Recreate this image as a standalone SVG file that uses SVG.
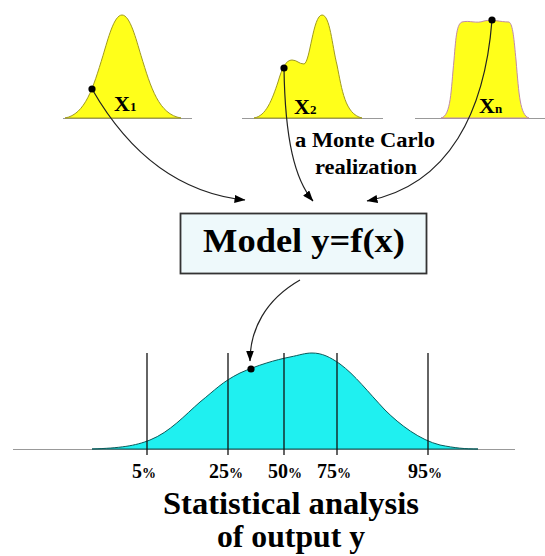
<svg xmlns="http://www.w3.org/2000/svg" width="545" height="556" viewBox="0 0 545 556">
<style>
.t{font-family:'Liberation Serif','Times New Roman','DejaVu Serif',serif;font-weight:bold;fill:#000}
.base{stroke:#999;stroke-width:1.2;fill:none}
.yel{fill:#ffff1a;stroke:#a09a20;stroke-width:1}
.conn{fill:none;stroke:#222;stroke-width:1.2}
.vl{stroke:#111;stroke-width:1.3}
</style>
<defs>
<marker id="ah" viewBox="0 0 11 8" refX="10.5" refY="4" markerWidth="11" markerHeight="8" markerUnits="userSpaceOnUse" orient="auto">
<path d="M0,0 L11,4 L0,8 Z" fill="#000"/>
</marker>
</defs>
<rect width="545" height="556" fill="#fff"/>

<g id="x1">
<line class="base" x1="63" y1="118.5" x2="192" y2="118.5"/>
<path class="yel" d="M65,118 C85,114.4 93,88.4 103,55.5 C108,39 114,15 122,15 C130,15 136,39 141,55.5 C151,88.4 159,114.4 181,118 Z"/>
<text class="t" font-family="Liberation Serif, serif" x="114" y="111" font-size="22">X<tspan font-size="13">1</tspan></text>
</g>

<g id="x2">
<line class="base" x1="242" y1="118.5" x2="383" y2="118.5"/>
<path class="yel" d="M254,118 C266,116 272,100 278,82 C282,68 286,60 292,60 C297,60 299,64 304,64 C310,63 313,15 322,15 C330,15 332,45 337,65 C342,90 345,114 362,118 Z"/>
<text class="t" font-family="Liberation Serif, serif" x="294" y="114" font-size="22">X<tspan font-size="13">2</tspan></text>
</g>

<g id="xn">
<line class="base" x1="415" y1="118.5" x2="545" y2="118.5"/>
<path d="M441,118 C451,116 451,90 454,60 C456,35 457,24 462,22 C470,20 476,24 484,21 C493,19 500,22 509,22 C513,24 514,40 516,60 C519,95 520,115 529,118 Z" fill="#ffff1a" stroke="#c08aa8" stroke-width="1"/>
<text class="t" font-family="Liberation Serif, serif" x="479" y="113" font-size="22">X<tspan font-size="13">n</tspan></text>
</g>

<g id="model">
<rect x="180.5" y="213.5" width="246" height="60" fill="#eef9fb" stroke="#333" stroke-width="1.8"/>
<text class="t" font-family="Liberation Serif, serif" x="304" y="252" font-size="34" text-anchor="middle" textLength="202" lengthAdjust="spacingAndGlyphs">Model y=f(x)</text>
</g>

<g id="label-mc">
<text class="t" font-family="Liberation Serif, serif" x="365" y="147" font-size="20" text-anchor="middle" textLength="140" lengthAdjust="spacingAndGlyphs">a Monte Carlo</text>
<text class="t" font-family="Liberation Serif, serif" x="366" y="174" font-size="20" text-anchor="middle" textLength="102" lengthAdjust="spacingAndGlyphs">realization</text>
</g>

<g id="output">
<line class="base" x1="13" y1="449.5" x2="515" y2="449.5"/>
<path d="M92,449 C120,448 135,446 150,440 C170,432 185,415 200,402 C215,390 222,382 240,373 C258,365 275,360 290,357 C300,355 305,353 312,353 C322,353 330,357 340,364 C355,375 368,392 385,410 C400,425 420,440 440,445 C455,448 465,449 478,449 Z" fill="#1ff0f0" stroke="#0a5a5a" stroke-width="1"/>
<line class="vl" x1="147" y1="353" x2="147" y2="455"/>
<line class="vl" x1="228" y1="353" x2="228" y2="455"/>
<line class="vl" x1="284" y1="353" x2="284" y2="455"/>
<line class="vl" x1="337" y1="353" x2="337" y2="455"/>
<line class="vl" x1="428" y1="353" x2="428" y2="455"/>
<g font-family="Liberation Serif, serif">
<text class="t" x="132" y="478" font-size="20">5<tspan font-size="14">%</tspan></text>
<text class="t" x="209" y="478" font-size="20">25<tspan font-size="14">%</tspan></text>
<text class="t" x="268" y="478" font-size="20">50<tspan font-size="14">%</tspan></text>
<text class="t" x="317" y="478" font-size="20">75<tspan font-size="14">%</tspan></text>
<text class="t" x="408" y="478" font-size="20">95<tspan font-size="14">%</tspan></text>
<text class="t" x="291" y="514" font-size="31" text-anchor="middle" textLength="256" lengthAdjust="spacingAndGlyphs">Statistical analysis</text>
<text class="t" x="291" y="547" font-size="31" text-anchor="middle" textLength="148" lengthAdjust="spacingAndGlyphs">of output y</text>
</g>
</g>

<g id="connectors">
<path class="conn" d="M92,89 Q150,190 245,200" marker-end="url(#ah)"/>
<path class="conn" d="M284,68 C285,140 295,180 313,201" marker-end="url(#ah)"/>
<path class="conn" d="M492,20 C485,110 450,185 367,201" marker-end="url(#ah)"/>
<path class="conn" d="M300,280 C265,300 250,330 250,361" marker-end="url(#ah)"/>
<circle cx="92" cy="89" r="3.6" fill="#000"/>
<circle cx="284" cy="68" r="3.6" fill="#000"/>
<circle cx="492" cy="20" r="3.6" fill="#000"/>
<circle cx="251" cy="369" r="3.6" fill="#000"/>
</g>
</svg>
